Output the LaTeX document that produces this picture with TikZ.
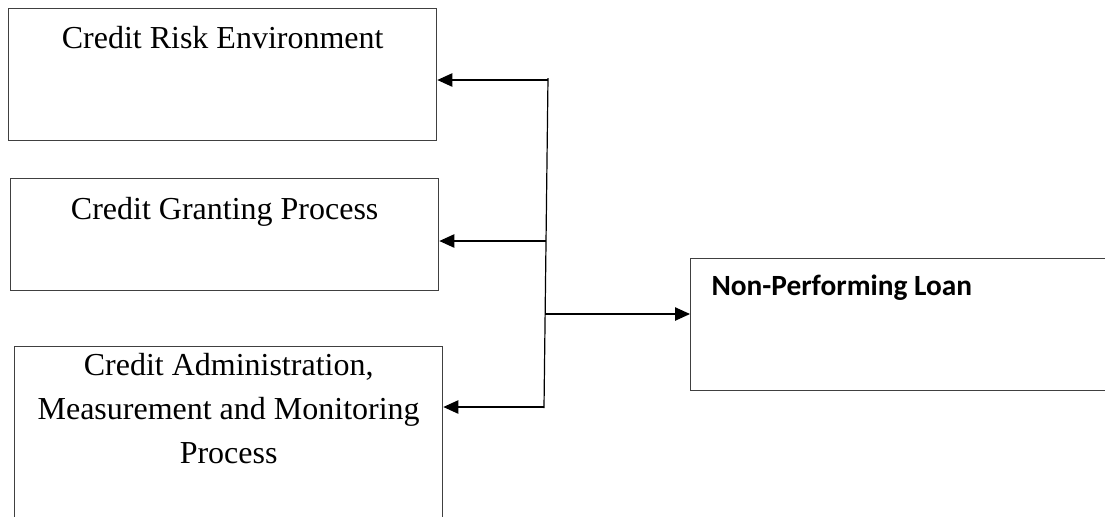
\documentclass[tikz,border=0pt]{standalone}
\usepackage{fontspec}
\setmainfont{Liberation Serif}
\newfontfamily\calibri{Carlito}
\usetikzlibrary{arrows.meta, positioning}

\begin{document}
\begin{tikzpicture}
[
						x=0.375pt, y=-0.375pt,
						box/.style = {draw=black!75, line width=0.5pt, rectangle, anchor=north west, inner sep=0pt, minimum width=160.5pt},
						title/.style = {font=\fontsize{12pt}{16.5pt}\selectfont, align=center, inner sep=0pt},
						btitle/.style = {font=\calibri\bfseries\fontsize{11pt}{13pt}\selectfont, inner sep=0pt},
						trunk/.style = {draw=black, line width=0.45pt},
						link/.style = {draw=black, line width=0.45pt, -{Triangle[length=5.6pt, width=5pt]}}
					]
\useasboundingbox (0,0) rectangle (1105,516);
\clip (0,0) rectangle (1105,516);
\node[box, minimum height=49.5pt, label={[title, anchor=base, yshift=-15pt]north:Credit Risk Environment}] (env) at (8,8) {};
\node[box, minimum height=42pt, label={[title, anchor=base, yshift=-15.4pt]north:Credit Granting Process}] (grant) at (10,178) {};
\node[box, minimum height=69pt, label={[title, anchor=north, yshift=-2.6pt]north:Credit Administration,\\Measurement and Monitoring\\Process}] (admin) at (14,346) {};
\node[box, minimum width=161.25pt, minimum height=49.5pt, label={[btitle, anchor=base west, xshift=7.9pt, yshift=-13.9pt]north west:Non-Performing Loan}] (npl) at (690,258) {};
\coordinate (t1) at (548,78);
\coordinate (t2) at (544,408);
\coordinate (j1) at (548,80);
\coordinate (j2) at (546,241);
\coordinate (j3) at (545,314);
\coordinate (j4) at (544,407);
\draw[trunk] (t1) -- (t2);
\draw[link] (j1) -- (env.east |- j1);
\draw[link] (j2) -- (grant.east |- j2);
\draw[link] (j4) -- (admin.east |- j4);
\draw[link] (j3) -- (npl.west |- j3);
\end{tikzpicture}
\end{document}
